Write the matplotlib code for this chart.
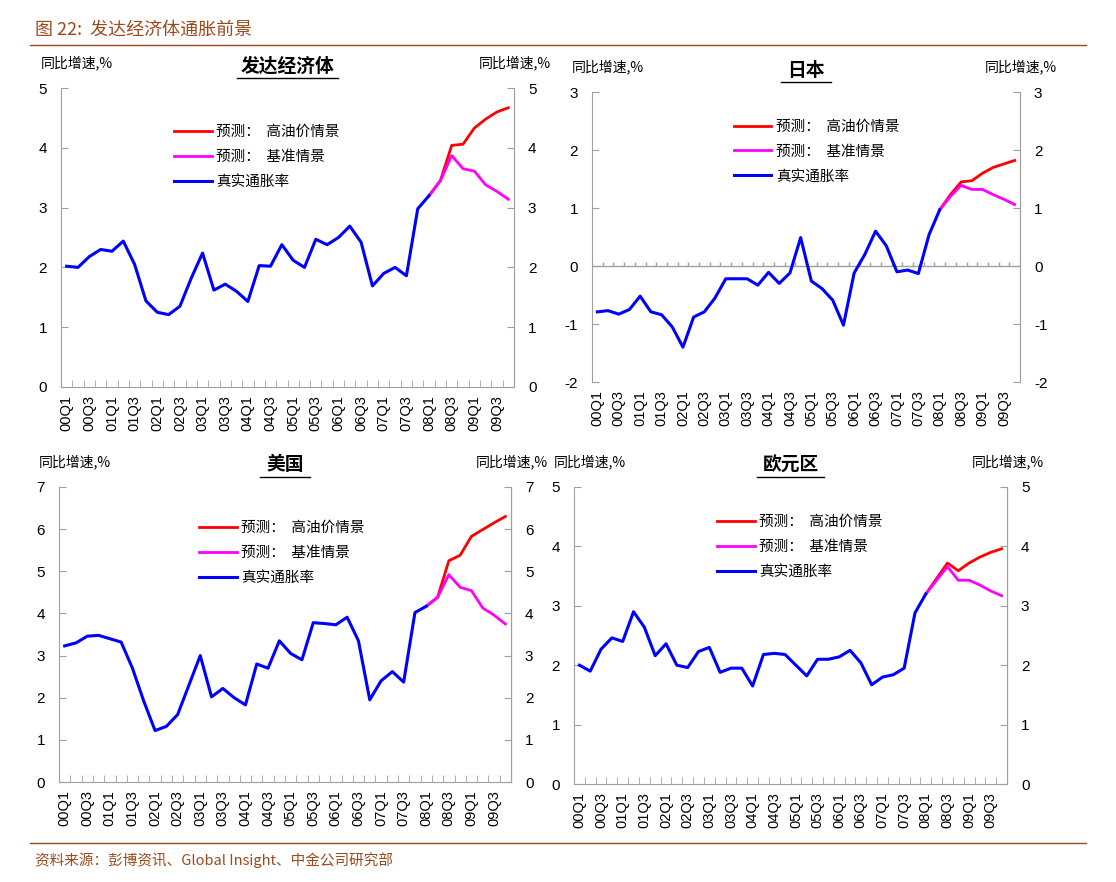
import matplotlib
matplotlib.use("Agg")
import matplotlib.pyplot as plt
from matplotlib.lines import Line2D
import numpy as np

CJK = "Noto Sans CJK SC"
NUM = "Liberation Sans"
BROWN = "#9b4a1c"
GRAY = "#a0a0a0"

quarters = [f"{y:02d}Q{q}" for y in range(0, 10) for q in range(1, 5)]

dev_actual = [2.02, 2.0, 2.18, 2.3, 2.27, 2.44, 2.05, 1.44, 1.25, 1.21, 1.35, 1.82, 2.24, 1.62, 1.72, 1.6,
              1.43, 2.03, 2.02, 2.38, 2.12, 2.0, 2.47, 2.38, 2.5, 2.69, 2.42, 1.69, 1.9, 2.0, 1.86, 2.98, 3.2]
dev_high = [3.2, 3.45, 4.04, 4.06, 4.33, 4.48, 4.6, 4.67]
dev_base = [3.2, 3.45, 3.87, 3.65, 3.61, 3.38, 3.27, 3.14]

jp_actual = [-0.79, -0.77, -0.83, -0.75, -0.52, -0.79, -0.84, -1.05, -1.4, -0.88, -0.79, -0.55, -0.22, -0.22,
             -0.22, -0.33, -0.11, -0.3, -0.12, 0.49, -0.26, -0.39, -0.59, -1.02, -0.12, 0.2, 0.6, 0.35, -0.1,
             -0.07, -0.13, 0.54, 0.97]
jp_high = [0.97, 1.23, 1.45, 1.47, 1.6, 1.7, 1.76, 1.82]
jp_base = [0.97, 1.2, 1.39, 1.32, 1.32, 1.23, 1.15, 1.06]

us_actual = [3.23, 3.3, 3.46, 3.48, 3.4, 3.32, 2.7, 1.92, 1.22, 1.32, 1.6, 2.3, 3.0, 2.02, 2.22, 2.0, 1.83,
             2.8, 2.7, 3.35, 3.05, 2.9, 3.78, 3.76, 3.73, 3.91, 3.35, 1.95, 2.4, 2.62, 2.37, 4.02, 4.17]
us_high = [4.17, 4.38, 5.25, 5.38, 5.83, 5.99, 6.15, 6.3]
us_base = [4.17, 4.38, 4.92, 4.62, 4.54, 4.13, 3.96, 3.75]

eu_actual = [2.0, 1.9, 2.27, 2.46, 2.4, 2.9, 2.64, 2.16, 2.36, 2.0, 1.96, 2.23, 2.3, 1.88, 1.95, 1.95, 1.65,
             2.18, 2.2, 2.18, 2.0, 1.82, 2.1, 2.1, 2.14, 2.25, 2.04, 1.67, 1.8, 1.84, 1.95, 2.88, 3.2]
eu_high = [3.2, 3.46, 3.72, 3.59, 3.72, 3.82, 3.9, 3.96]
eu_base = [3.2, 3.43, 3.66, 3.43, 3.43, 3.35, 3.25, 3.17]

W, H = 1116, 882
fig = plt.figure(figsize=(W / 100, H / 100), dpi=100)

def fx(px): return px / W
def fy(py): return 1 - py / H

# header / footer
fig.text(fx(35), fy(30), "图 22:  发达经济体通胀前景", fontfamily=CJK, fontsize=13, color=BROWN, va="center")
fig.add_artist(Line2D([fx(30), fx(1086)], [fy(45), fy(45)], color=BROWN, lw=1))
fig.add_artist(Line2D([fx(30), fx(1086)], [fy(843), fy(843)], color=BROWN, lw=1))
fig.text(fx(35), fy(860), "资料来源：彭博资讯、Global Insight、中金公司研究部", fontfamily=CJK, fontsize=10.5,
         color=BROWN, va="center")

def panel(box, title, actual, high, base, ylim, ystep, zero_axis=False, legx=0.2, legy=0.95):
    x0, y0, x1, y1 = box
    ax = fig.add_axes([fx(x0), fy(y1), fx(x1) - fx(x0), fy(y0) - fy(y1)])
    n = len(quarters)
    xa = np.arange(len(actual))
    xf = np.arange(len(actual) - 1, len(actual) - 1 + len(high))
    ax.plot(xf, high, color="#ff0000", lw=2, label="预测：  高油价情景")
    ax.plot(xf, base, color="#ff00ff", lw=2, label="预测：  基准情景")
    ax.plot(xa, actual, color="#0000ff", lw=2.2, label="真实通胀率")
    ax.set_xlim(-0.5, n - 0.5)
    ax.set_ylim(*ylim)
    yt = np.arange(ylim[0], ylim[1] + 0.01, ystep)
    ax.set_yticks(yt)
    ax.set_yticklabels([f"{v:g}" for v in yt], fontfamily=NUM, fontsize=11)
    ax.spines["top"].set_visible(False)
    for s in ["left", "right", "bottom"]:
        ax.spines[s].set_color(GRAY)
    ax.tick_params(axis="y", direction="in", length=5, color=GRAY, pad=10)
    ax.set_xticks(np.arange(0, n, 2))
    ax.set_xticklabels(quarters[::2], rotation=90, fontfamily=NUM, fontsize=10.5)
    ax.tick_params(axis="x", length=0, pad=6)
    ax.set_xticks(np.arange(-0.5, n, 1), minor=True)
    if zero_axis:
        ax.spines["bottom"].set_visible(False)
        ax.tick_params(axis="x", which="minor", length=0)
        ax.axhline(0, color=GRAY, lw=1, zorder=0)
        tl = (ylim[1] - ylim[0]) * 0.015
        ax.vlines(np.arange(-0.5, n, 1), 0, tl, color=GRAY, lw=1, zorder=0)
    else:
        ax.tick_params(axis="x", which="minor", direction="in", length=5, color=GRAY)
    ax2 = ax.twinx()
    ax2.set_ylim(*ylim)
    ax2.set_yticks(yt)
    ax2.set_yticklabels([f"{v:g}" for v in yt], fontfamily=NUM, fontsize=11)
    ax2.tick_params(axis="y", direction="in", length=5, color=GRAY, pad=10)
    for s in ["top", "bottom", "left"]:
        ax2.spines[s].set_visible(False)
    ax2.spines["right"].set_color(GRAY)
    ax.legend(loc="upper left", bbox_to_anchor=(legx, legy), frameon=False, handlelength=2.6,
              labelspacing=0.75, prop={"family": CJK, "size": 10.5}, handletextpad=0.3)
    fig.text(fx(x0 - 20), fy(y0 - 25), "同比增速,%", fontfamily=CJK, fontsize=10, va="center")
    fig.text(fx(x1 + 37), fy(y0 - 25), "同比增速,%", fontfamily=CJK, fontsize=10, va="center", ha="right")
    cx = (x0 + x1) / 2
    fig.text(fx(cx), fy(y0 - 22), title, fontfamily=CJK, fontsize=13.5, fontweight="bold",
             va="center", ha="center")
    hw = 17 * len(title) / 2 + 8
    fig.add_artist(Line2D([fx(cx - hw), fx(cx + hw)], [fy(y0 - 10), fy(y0 - 10)], color="black", lw=1))
    return ax

panel((61, 88, 514, 387), "发达经济体", dev_actual, dev_high, dev_base, (0, 5), 1, legx=0.22, legy=0.92)
panel((592, 92, 1020, 382), "日本", jp_actual, jp_high, jp_base, (-2, 3), 1, zero_axis=True, legx=0.3)
panel((59, 487, 511, 782), "美国", us_actual, us_high, us_base, (0, 7), 1, legx=0.28, legy=0.93)
panel((574, 487, 1007, 784), "欧元区", eu_actual, eu_high, eu_base, (0, 5), 1, legx=0.3, legy=0.95)

fig.savefig("out.png", dpi=100, facecolor="white")
